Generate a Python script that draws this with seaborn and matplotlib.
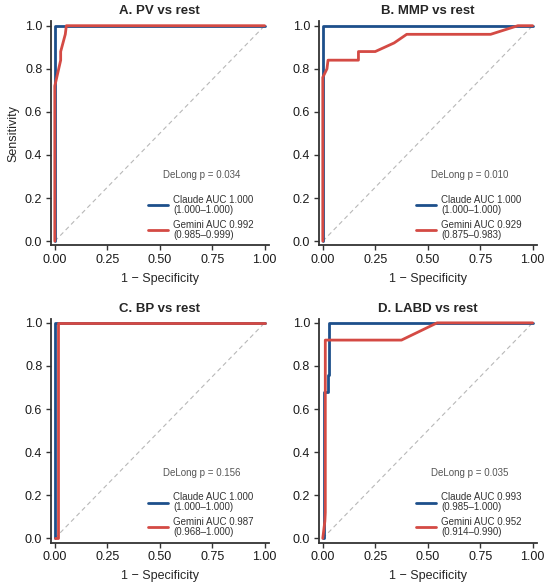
import matplotlib
matplotlib.use("Agg")
import matplotlib.pyplot as plt
import numpy as np
import pandas as pd
import seaborn as sns

# ROC points (1 - specificity, sensitivity)
titles = ["A. PV vs rest", "B. MMP vs rest", "C. BP vs rest", "D. LABD vs rest"]
delong = ["0.034", "0.010", "0.156", "0.035"]

claude_auc = ["1.000", "1.000", "1.000", "0.993"]
claude_ci = ["1.000\u20131.000", "1.000\u20131.000", "1.000\u20131.000", "0.985\u20131.000"]
gemini_auc = ["0.992", "0.929", "0.987", "0.952"]
gemini_ci = ["0.985\u20130.999", "0.875\u20130.983", "0.968\u20131.000", "0.914\u20130.990"]

claude_fpr = [
    [0, 0, 1],
    [0, 0, 0, 0.93, 1],
    [0, 0, 1],
    [0, 0.005, 0.005, 0.024, 0.024, 0.028, 0.028, 1],
]
claude_tpr = [
    [0, 1, 1],
    [0, 0.76, 1, 1, 1],
    [0, 1, 1],
    [0, 0, 0.68, 0.68, 0.76, 0.76, 1, 1],
]
gemini_fpr = [
    [0, 0, 0.028, 0.028, 0.05, 0.055, 1],
    [0, 0, 0.02, 0.025, 0.17, 0.17, 0.25, 0.34, 0.40, 0.80, 0.93, 1],
    [0, 0.015, 0.015, 1],
    [0, 0.01, 0.012, 0.012, 0.375, 0.545, 1],
]
gemini_tpr = [
    [0, 0.72, 0.84, 0.88, 0.96, 1, 1],
    [0, 0.76, 0.80, 0.84, 0.84, 0.88, 0.88, 0.92, 0.96, 0.96, 1, 1],
    [0, 0, 1, 1],
    [0, 0.08, 0.12, 0.92, 0.92, 1, 1],
]

sns.set_theme(style="ticks")
plt.rcParams["font.family"] = ["Liberation Sans", "DejaVu Sans"]

blue = "#1d4f8b"
red = "#d44a44"

fig, axes = plt.subplots(2, 2, figsize=(5.5, 5.86), dpi=100)
fig.subplots_adjust(left=0.092, right=0.976, bottom=0.074, top=0.9635,
                    wspace=0.228, hspace=0.326)

for i, ax in enumerate(axes.flat):
    df_c = pd.DataFrame({"fpr": claude_fpr[i], "tpr": claude_tpr[i]})
    df_g = pd.DataFrame({"fpr": gemini_fpr[i], "tpr": gemini_tpr[i]})

    ax.plot([0, 1], [0, 1], ls=(0, (4, 3)), color="#b8b8b8", lw=0.8, zorder=1)
    sns.lineplot(data=df_c, x="fpr", y="tpr", sort=False, estimator=None,
                 color=blue, lw=2, ax=ax, zorder=3,
                 label=f"Claude AUC {claude_auc[i]}\n({claude_ci[i]})")
    sns.lineplot(data=df_g, x="fpr", y="tpr", sort=False, estimator=None,
                 color=red, lw=2, ax=ax, zorder=4,
                 label=f"Gemini AUC {gemini_auc[i]}\n({gemini_ci[i]})")

    ax.set_xlim(-0.02, 1.02)
    ax.set_ylim(-0.02, 1.02)
    ax.set_xticks([0, 0.25, 0.5, 0.75, 1.0])
    ax.set_xticklabels(["0.00", "0.25", "0.50", "0.75", "1.00"])
    ax.set_yticks([0, 0.2, 0.4, 0.6, 0.8, 1.0])
    ax.set_yticklabels(["0.0", "0.2", "0.4", "0.6", "0.8", "1.0"])
    ax.tick_params(labelsize=9, length=3.5, width=1, color="#333333",
                   labelcolor="#1a1a1a", pad=2.5)
    for s in ["left", "bottom"]:
        ax.spines[s].set_color("#333333")
        ax.spines[s].set_linewidth(1.3)
    sns.despine(ax=ax)

    ax.set_title(titles[i], fontsize=9.5, fontweight="bold", pad=5)
    ax.set_xlabel("1 \u2212 Specificity", fontsize=9, labelpad=5)
    ax.set_ylabel("Sensitivity" if i == 0 else "", fontsize=9, labelpad=4)

    ax.text(0.70, 0.305, f"DeLong p = {delong[i]}", ha="center", va="center",
            fontsize=7, color="#555555")
    leg = ax.legend(loc="lower left", bbox_to_anchor=(0.42, 0.0), frameon=False,
                    fontsize=7, handlelength=2.0, handletextpad=0.6,
                    labelspacing=0.5, borderaxespad=0.2)
    for t in leg.get_texts():
        t.set_color("#333333")
        t.set_linespacing(1.0)

fig.savefig("out.png", dpi=100)
